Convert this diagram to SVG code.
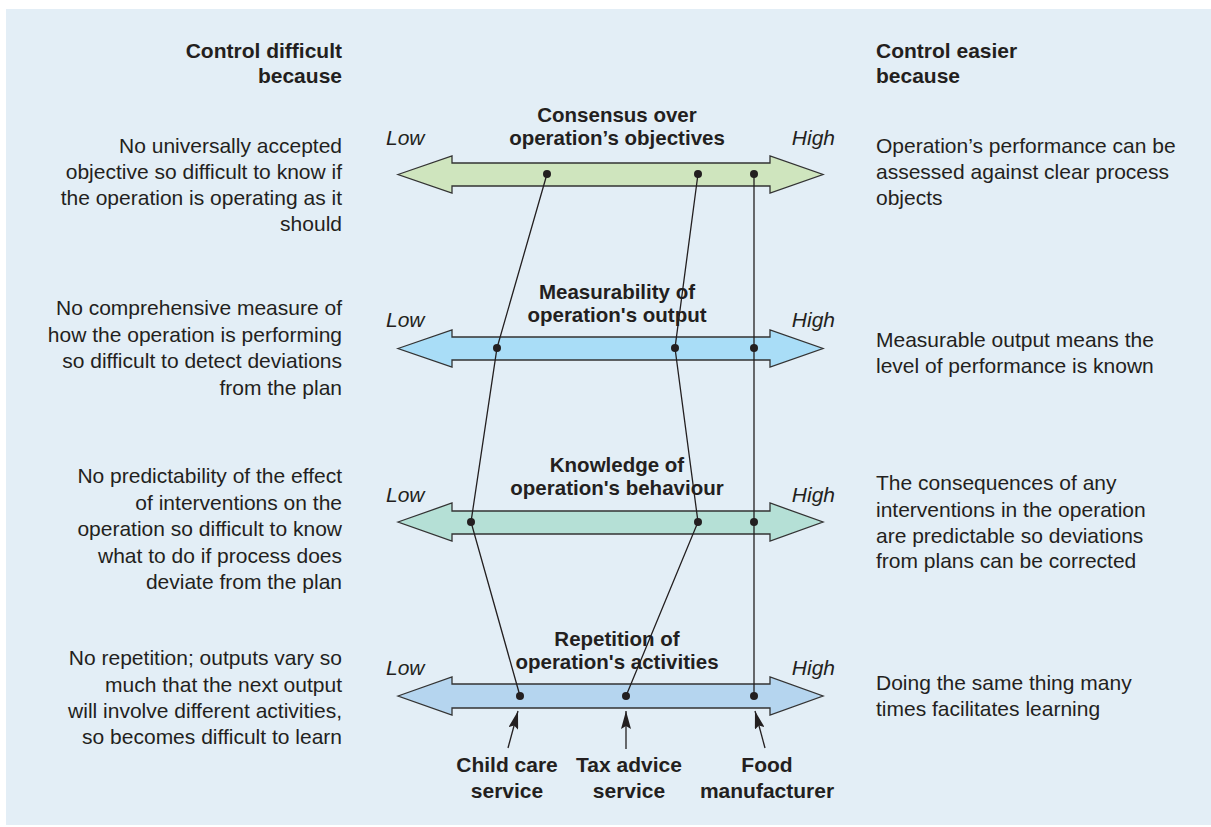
<svg xmlns="http://www.w3.org/2000/svg" width="1211" height="827" viewBox="0 0 1211 827">
<style>
text{font-family:"Liberation Sans",Arial,Helvetica,sans-serif;fill:#231f20;font-size:21px}
.b{font-weight:bold}
.t{font-weight:bold;font-size:20.5px;text-anchor:middle}
.i{font-style:italic}
.r{text-anchor:end}
.m{text-anchor:middle}
.scale{stroke:#333;stroke-width:1.3;stroke-linejoin:miter}
.dot{fill:#231f20}
.ln{fill:none;stroke:#231f20;stroke-width:1.3}
</style>
<defs>
<marker id="ah" viewBox="0 0 18 10" refX="18" refY="5" markerWidth="18" markerHeight="10" markerUnits="userSpaceOnUse" orient="auto">
<path d="M0,0 L18,5 L0,10 L3,5 Z" fill="#231f20"/>
</marker>
</defs>
<rect x="6" y="9" width="1205" height="816" fill="#e3eef6"/>

<g id="header-left"><text class="b r" x="342" y="58">Control difficult</text><text class="b r" x="342" y="83">because</text></g>
<g id="header-right"><text class="b" x="876" y="58">Control easier</text><text class="b" x="876" y="83">because</text></g>

<g id="left-1"><text class="r" x="342" y="153">No universally accepted</text><text class="r" x="342" y="179">objective so difficult to know if</text><text class="r" x="342" y="205">the operation is operating as it</text><text class="r" x="342" y="231">should</text></g>
<g id="left-2"><text class="r" x="342" y="315">No comprehensive measure of</text><text class="r" x="342" y="342">how the operation is performing</text><text class="r" x="342" y="368">so difficult to detect deviations</text><text class="r" x="342" y="395">from the plan</text></g>
<g id="left-3"><text class="r" x="342" y="483">No predictability of the effect</text><text class="r" x="342" y="510">of interventions on the</text><text class="r" x="342" y="536">operation so difficult to know</text><text class="r" x="342" y="563">what to do if process does</text><text class="r" x="342" y="589">deviate from the plan</text></g>
<g id="left-4"><text class="r" x="342" y="665">No repetition; outputs vary so</text><text class="r" x="342" y="692">much that the next output</text><text class="r" x="342" y="718">will involve different activities,</text><text class="r" x="342" y="744">so becomes difficult to learn</text></g>

<g id="right-1"><text x="876" y="153">Operation’s performance can be</text><text x="876" y="179">assessed against clear process</text><text x="876" y="205">objects</text></g>
<g id="right-2"><text x="876" y="347">Measurable output means the</text><text x="876" y="373">level of performance is known</text></g>
<g id="right-3"><text x="876" y="490">The consequences of any</text><text x="876" y="517">interventions in the operation</text><text x="876" y="543">are predictable so deviations</text><text x="876" y="568">from plans can be corrected</text></g>
<g id="right-4"><text x="876" y="690">Doing the same thing many</text><text x="876" y="716">times facilitates learning</text></g>

<g id="scale-1">
<path class="scale" fill="#cfe5be" d="M398,174.5 L452,156 L452,163 L770,163 L770,156 L823,174.5 L770,193 L770,186 L452,186 L452,193 Z"/>
<text class="t" x="617" y="122">Consensus over</text><text class="t" x="617" y="145">operation’s objectives</text>
<text class="i" x="386" y="145">Low</text><text class="i r" x="835" y="145">High</text>
</g>
<g id="scale-2">
<path class="scale" fill="#a9ddf7" d="M398,348.5 L452,330 L452,337 L770,337 L770,330 L823,348.5 L770,367 L770,360 L452,360 L452,367 Z"/>
<text class="t" x="617" y="299">Measurability of</text><text class="t" x="617" y="322">operation's output</text>
<text class="i" x="386" y="327">Low</text><text class="i r" x="835" y="327">High</text>
</g>
<g id="scale-3">
<path class="scale" fill="#b5e0d6" d="M398,522 L452,503 L452,511 L770,511 L770,503 L823,522 L770,541 L770,534 L452,534 L452,541 Z"/>
<text class="t" x="617" y="472">Knowledge of</text><text class="t" x="617" y="495">operation's behaviour</text>
<text class="i" x="386" y="502">Low</text><text class="i r" x="835" y="502">High</text>
</g>
<g id="scale-4">
<path class="scale" fill="#b5d5ef" d="M398,696 L452,677 L452,684 L770,684 L770,677 L823,696 L770,715 L770,708 L452,708 L452,715 Z"/>
<text class="t" x="617" y="646">Repetition of</text><text class="t" x="617" y="669">operation's activities</text>
<text class="i" x="386" y="675">Low</text><text class="i r" x="835" y="675">High</text>
</g>

<g id="connectors">
<polyline class="ln" points="547,174 497,348 471,522 520,696"/>
<polyline class="ln" points="698,174 675,348 698,522 626,696"/>
<polyline class="ln" points="754,174 754,348 754,522 754,696"/>
<g class="dot">
<circle cx="547" cy="174" r="4"/><circle cx="698" cy="174" r="4"/><circle cx="754" cy="174" r="4"/>
<circle cx="497" cy="348" r="4"/><circle cx="675" cy="348" r="4"/><circle cx="754" cy="348" r="4"/>
<circle cx="471" cy="522" r="4"/><circle cx="698" cy="522" r="4"/><circle cx="754" cy="522" r="4"/>
<circle cx="520" cy="696" r="4"/><circle cx="626" cy="696" r="4"/><circle cx="754" cy="696" r="4"/>
</g>
<line class="ln" x1="508" y1="748" x2="518" y2="711" marker-end="url(#ah)"/>
<line class="ln" x1="626" y1="749" x2="626" y2="711" marker-end="url(#ah)"/>
<line class="ln" x1="765" y1="748" x2="755" y2="711" marker-end="url(#ah)"/>
</g>

<g id="label-child"><text class="b m" x="507" y="772">Child care</text><text class="b m" x="507" y="798">service</text></g>
<g id="label-tax"><text class="b m" x="629" y="772">Tax advice</text><text class="b m" x="629" y="798">service</text></g>
<g id="label-food"><text class="b m" x="767" y="772">Food</text><text class="b m" x="767" y="798">manufacturer</text></g>
</svg>
